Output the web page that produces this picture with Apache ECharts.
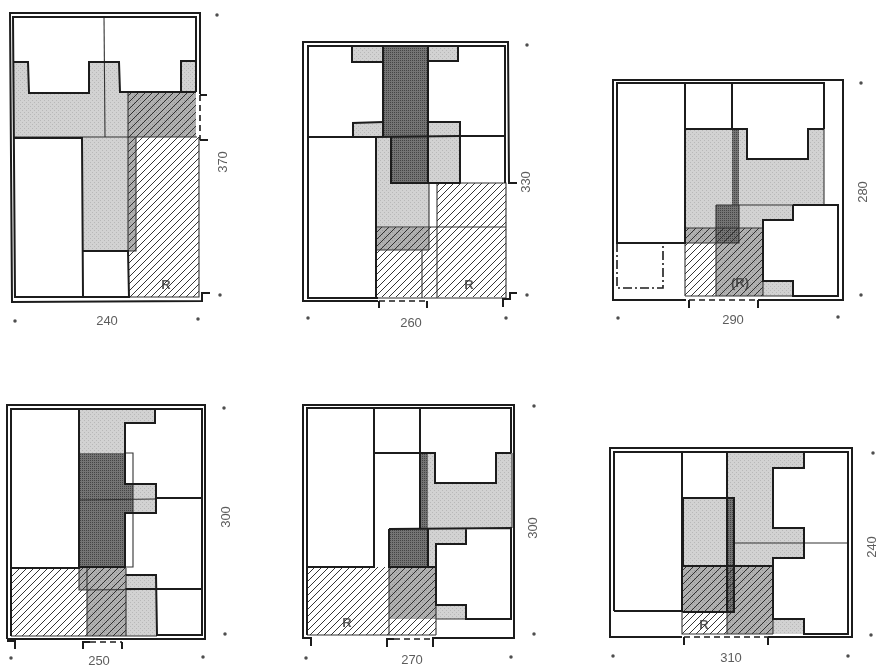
<!DOCTYPE html>
<html><head><meta charset="utf-8">
<style>html,body{margin:0;padding:0;background:#fff}#c{width:876px;height:666px}</style>
<script src="https://cdn.jsdelivr.net/npm/echarts@6/dist/echarts.min.js"></script>
</head><body><div id="c"></div>
<script>
// All points are in drawing units of the sheet (876 x 666), mapped through the value axes.
const lightAreas = [
  // plan 240
  [[13,62],[28,62],[29,93],[89,93],[89,62],[119,62],[120,92],[128,92],[128,137],[83,137],[14,137]],
  [[83,137],[128,137],[128,251],[83,251]],
  [[181,61],[196,61],[196,92],[181,92]],
  // plan 260
  [[352,46],[383,46],[383,62],[352,62]],
  [[428,46],[458,46],[458,61],[428,61]],
  [[353,123],[383,122],[383,137],[353,137]],
  [[428,122],[460,122],[460,183],[428,183]],
  [[376,137],[391,137],[391,183],[429,183],[429,228],[376,228]],
  // plan 290
  [[685,129],[747,129],[747,159],[808,159],[808,129],[824,129],[824,205],[793,205],[793,220],[763,220],[763,228],[685,228]],
  [[763,281],[793,281],[793,296],[763,296]],
  // plan 250
  [[79,409],[155,409],[155,423],[125,423],[125,453],[79,453]],
  [[133,484],[156,484],[156,513],[133,513]],
  [[126,575],[156,575],[156,636],[126,636]],
  // plan 270
  [[428,454],[435,454],[435,483],[496,483],[496,453],[512,453],[512,528],[466,528],[466,544],[436,544],[436,567],[428,567]],
  [[436,605],[466,605],[466,619],[436,619]],
  // plan 310
  [[727,452],[804,452],[804,468],[773,468],[773,528],[804,528],[804,558],[773,558],[773,566],[683,566],[683,498],[727,498]],
  [[773,619],[804,619],[804,634],[773,634]]
];
const midAreas = [
  [[128,92],[196,92],[196,137],[128,137]],
  [[128,137],[136,137],[136,251],[128,251]],
  [[376,228],[429,228],[429,250],[376,250]],
  [[686,228],[763,228],[763,243],[686,243]],
  [[716,243],[763,243],[763,296],[716,296]],
  [[79,568],[126,568],[126,590],[79,590]],
  [[87,590],[126,590],[126,636],[87,636]],
  [[389,567],[436,567],[436,619],[389,619]],
  [[683,566],[773,566],[773,612],[683,612]],
  [[727,612],[773,612],[773,634],[727,634]]
];
const darkAreas = [
  [[383,46],[428,46],[428,137],[383,137]],
  [[391,137],[428,137],[428,183],[391,183]],
  [[732,129],[739,129],[739,205],[732,205]],
  [[716,205],[739,205],[739,243],[716,243]],
  [[79,453],[125,453],[125,484],[133,484],[133,513],[125,513],[125,567],[79,567]],
  [[420,454],[428,454],[428,529],[420,529]],
  [[389,529],[428,529],[428,567],[389,567]],
  [[727,498],[734,498],[734,612],[727,612]]
];
const hatchAreas = [
  [[128,92],[196,92],[196,137],[128,137]],
  [[128,137],[199,137],[199,297],[129,297]],
  [[437,183],[506,183],[506,227],[437,227]],
  [[376,227],[506,227],[506,297],[376,297]],
  [[685,228],[763,228],[763,296],[685,296]],
  [[11,568],[126,568],[126,636],[11,636]],
  [[307,567],[436,567],[436,635],[307,635]],
  [[683,566],[773,566],[773,634],[682,634]]
];
const heavyLines = [
  // plan 240
  [[200,94],[200,13],[10,13],[12,302],[202,301],[202,293],[210,293]],
  [[196,92],[196,17],[13,17],[15,297],[130,297]],
  [[13,62],[28,62],[29,93],[89,93],[89,62],[119,62],[120,92],[196,92]],
  [[181,92],[181,61],[196,61]],
  [[14,138],[82,138],[83,297]],[[83,251],[128,251],[129,297]],
  [[200,95],[207,95]],[[200,140],[208,140]],
  // plan 260
  [[378,301],[303,301],[303,42],[508,42],[509,183],[517,183]],
  [[378,298],[308,298],[308,46],[505,46],[505,183]],
  [[352,46],[352,62],[383,62]],[[458,46],[458,61],[428,61]],
  [[383,46],[383,137]],[[428,46],[428,183]],
  [[353,137],[353,123],[383,122]],[[428,122],[460,122],[460,183]],
  [[308,137],[376,137],[376,298]],[[460,136],[505,136]],
  [[391,137],[391,183],[460,183]],[[376,137],[460,136]],
  [[503,307],[503,299],[510,299],[510,293],[517,293]],
  [[379,301],[379,308]],[[427,301],[427,308]],
  // plan 290
  [[686,300],[613,300],[613,80],[843,80],[843,300],[758,300]],
  [[824,129],[824,83],[617,83],[617,243],[685,243],[685,83]],
  [[732,83],[732,129]],
  [[685,129],[747,129],[747,159],[808,159],[808,129],[824,129]],
  [[793,205],[838,205],[838,296],[793,296],[793,281],[763,281],[763,220],[793,220],[793,205]],
  [[689,300],[689,308]],[[758,300],[758,308]],
  // plan 250
  [[7,639],[7,405],[205,405],[205,639],[7,639]],
  [[11,636],[11,409],[202,409],[202,635],[157,635],[156,575],[126,575]],
  [[11,568],[79,568],[79,409]],
  [[155,409],[155,423],[125,423],[125,484],[156,484],[156,513],[125,513],[125,567],[79,567],[79,568]],
  [[156,498],[202,498]],[[126,589],[202,589]],
  [[83,649],[83,642],[90,642]],[[122,642],[122,649]],[[7,641],[15,641],[15,649]],
  // plan 270
  [[311,646],[311,638],[303,638],[303,405],[514,405],[514,638],[433,638],[433,647]],
  [[307,635],[307,408],[511,408],[511,453]],
  [[307,567],[374,567],[374,408]],[[420,408],[420,529]],
  [[374,453],[435,453],[435,483],[496,483],[496,453],[511,453]],
  [[389,529],[511,528],[511,619],[466,619],[466,605],[436,605],[436,544],[466,544],[466,528]],
  [[389,529],[389,567],[436,567]],[[428,529],[428,567]],
  [[387,647],[387,639],[394,639]],
  // plan 310
  [[682,637],[610,637],[610,448],[852,448],[852,637],[768,637]],
  [[614,611],[614,452],[848,452],[848,634],[804,634],[804,619],[773,619],[773,566],[683,566]],
  [[614,611],[682,611],[682,452]],[[727,452],[727,612]],
  [[804,452],[804,468],[773,468],[773,528],[804,528],[804,558],[773,558],[773,566]],
  [[683,566],[683,498],[734,498],[734,612],[683,612]],
  [[684,637],[684,645]],[[768,637],[768,645]]
];
const fineLines = [
  [[104,16],[105,137]],[[14,137],[197,137]],[[128,92],[128,251]],[[136,137],[136,251],[128,251]],
  [[199,137],[199,297],[130,297]],
  [[437,183],[506,183],[506,298],[376,298]],[[376,227],[506,227]],[[437,183],[437,298]],[[422,250],[422,298]],[[376,250],[429,250]],[[429,183],[429,250]],
  [[716,205],[793,205]],[[716,205],[716,296]],[[685,228],[763,228]],[[686,243],[739,243],[739,205]],[[685,243],[685,296]],[[685,296],[793,296]],[[763,228],[763,296]],[[824,129],[824,205]],
  [[125,453],[133,453],[133,567],[125,567]],[[79,500],[156,499]],[[79,568],[79,590],[202,589]],[[87,568],[87,636]],[[126,568],[126,636]],[[11,636],[157,636]],
  [[389,567],[389,635]],[[307,635],[436,635]],[[436,567],[436,635]],[[436,619],[511,619]],[[512,453],[512,528]],
  [[734,543],[848,543]],[[682,612],[682,634],[773,634]],[[727,612],[727,634]],[[773,566],[773,634]]
];
const dashLines = [
  [[200,95],[200,140]],[[379,301],[427,301]],[[689,300],[758,300]],[[90,642],[122,642]],[[394,639],[433,639]],[[684,637],[768,637]]
];
const dashDotLines = [
  [[617,243],[617,288],[663,288],[663,243]]
];
const sheetDots = [
  [217,15],[220,295],[15,321],[198,319],
  [527,45],[527,295],[308,318],[506,318],
  [861,83],[861,295],[618,318],[838,317],
  [224,408],[225,634],[11,658],[203,657],
  [534,406],[534,634],[306,658],[511,657],
  [873,453],[871,635],[613,656],[848,656]
];
const widthLabels = [[107,321,'240'],[411,323,'260'],[733,320,'290'],[99,661,'250'],[412,660,'270'],[731,658,'310']];
const depthLabels = [[223,162,'370'],[526,182,'330'],[863,192,'280'],[226,517,'300'],[533,528,'300'],[872,547,'240']];
const roomLabels = [[166,285,'R'],[469,285,'R'],[740,283,'(R)'],[347,623,'R'],[704,625,'R']];

function tile(bg, dots, n){
  const c=document.createElement('canvas');c.width=c.height=4;
  const g=c.getContext('2d');g.fillStyle=bg;g.fillRect(0,0,4,4);g.fillStyle=dots;
  g.fillRect(0,0,1,1);g.fillRect(2,2,1,1);if(n){g.fillRect(2,0,1,1);g.fillRect(0,2,1,1);}
  return {image:c,repeat:'repeat'};
}
function hatchTile(){
  const s=7,c=document.createElement('canvas');c.width=c.height=s;
  const g=c.getContext('2d');g.strokeStyle='#2b2b2b';g.lineWidth=0.95;
  for(const d of [-s,0,s]){g.beginPath();g.moveTo(d,s);g.lineTo(d+s,0);g.stroke();}
  return {image:c,repeat:'repeat'};
}
const lightFill=tile('#d2d2d2','#b8b8b8',false), midFill=tile('#b0b0b0','#989898',false), darkFill=tile('#747474','#444444',true), hatchFill=hatchTile();

function shapes(list,type,style,z){
  return {type:'custom',coordinateSystem:'cartesian2d',silent:true,z:z,clip:false,animation:false,
    data:list.map((_,i)=>[i]),
    encode:{x:[],y:[]},
    renderItem:(p,api)=>({type:type,
      shape:{points:list[p.dataIndex].map(q=>api.coord(q))},
      style:Object.assign({},style)})};
}
function labels(list,rotate,size,z,weight){
  return {type:'scatter',symbolSize:1,silent:true,z:z,itemStyle:{color:'transparent'},
    data:list.map(d=>({value:[d[0],d[1]],name:d[2]})),
    label:{show:true,position:'inside',formatter:'{b}',rotate:rotate,color:'#333',fontSize:size,fontWeight:weight||'normal',fontFamily:'Liberation Sans'}};
}
const chart=echarts.init(document.getElementById('c'),null,{renderer:'canvas'});
chart.setOption({
  animation:false,backgroundColor:'#fff',
  grid:{left:0,right:0,top:0,bottom:0},
  xAxis:{type:'value',min:0,max:876,show:false},
  yAxis:{type:'value',min:0,max:666,inverse:true,show:false},
  series:[
    shapes(lightAreas,'polygon',{fill:lightFill},1),
    shapes(midAreas,'polygon',{fill:midFill},2),
    shapes(darkAreas,'polygon',{fill:darkFill},3),
    shapes(hatchAreas,'polygon',{fill:hatchFill},4),
    shapes(fineLines,'polyline',{fill:null,stroke:'#333',lineWidth:1.1},5),
    shapes(heavyLines,'polyline',{fill:null,stroke:'#1c1c1c',lineWidth:2},6),
    shapes(dashLines,'polyline',{fill:null,stroke:'#1c1c1c',lineWidth:1.6,lineDash:[6,4]},6),
    shapes(dashDotLines,'polyline',{fill:null,stroke:'#1c1c1c',lineWidth:1.6,lineDash:[9,3,2,3]},6),
    {type:'scatter',symbolSize:3.5,silent:true,z:7,itemStyle:{color:'#222'},data:sheetDots},
    labels(widthLabels,0,13,8),
    labels(depthLabels,90,13,8),
    labels(roomLabels,0,13,8,'bold')
  ]
});
</script></body></html>
